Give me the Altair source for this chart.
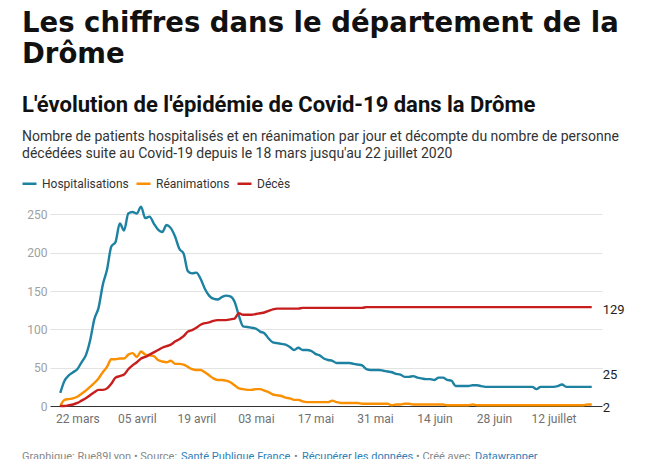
import altair as alt
import pandas as pd

# ---------------- data ----------------
start_date = "2020-03-18"
n_days = 126
dates = pd.date_range(start_date, periods=n_days, freq="D").strftime("%Y-%m-%d").tolist()

hospitalisations = [
    17, 33, 40, 44, 48, 57, 66, 85, 113, 128,
    158, 178, 208, 214, 238, 229, 251, 253, 251, 260,
    245, 247, 238, 230, 227, 236, 232, 221, 205, 199,
    176, 173, 174, 166, 153, 144, 140, 139, 142, 144,
    143, 136, 118, 104, 103, 102, 101, 97, 95, 88,
    83, 82, 81, 80, 77, 73, 76, 73, 73, 72,
    68, 66, 62, 60, 59, 56, 56, 56, 56, 55,
    54, 53, 48, 47, 47, 47, 46, 45, 44, 42,
    41, 38, 38, 39, 37, 36, 35, 35, 34, 37,
    37, 34, 33, 26, 26, 26, 26, 27, 27, 26,
    25, 25, 25, 25, 25, 25, 25, 25, 25, 25,
    25, 25, 22, 25, 25, 25, 25, 26, 28, 25,
    25, 25, 25, 25, 25, 25,
]
reanimations = [
    0, 8, 9, 10, 12, 16, 20, 25, 30, 36,
    44, 51, 61, 61, 62, 62, 67, 69, 64, 71,
    67, 66, 65, 60, 58, 57, 59, 55, 55, 54,
    51, 48, 47, 47, 44, 40, 36, 34, 34, 33,
    31, 27, 23, 22, 21, 21, 22, 22, 20, 18,
    15, 14, 13, 11, 10, 8, 8, 6, 5, 5,
    5, 5, 5, 5, 7, 5, 4, 4, 4, 4,
    4, 3, 3, 3, 3, 3, 3, 3, 1, 2,
    2, 3, 3, 2, 2, 2, 2, 2, 2, 2,
    2, 1, 1, 1, 1, 1, 1, 2, 1, 1,
    1, 1, 1, 1, 1, 1, 1, 1, 1, 1,
    1, 1, 1, 1, 1, 1, 1, 1, 1, 1,
    1, 1, 1, 1, 2, 2,
]
deces = [
    0, 0, 1, 2, 4, 7, 10, 14, 18, 21,
    21, 23, 29, 37, 39, 41, 48, 53, 57, 62,
    64, 67, 70, 73, 76, 78, 80, 84, 87, 91,
    97, 99, 102, 106, 108, 109, 111, 112, 112, 112,
    113, 114, 121, 119, 119, 119, 120, 121, 122, 124,
    126, 127, 127, 127, 127, 127, 127, 128, 128, 128,
    128, 128, 128, 128, 128, 128, 128, 128, 128, 128,
    128, 128, 129, 129, 129, 129, 129, 129, 129, 129,
    129, 129, 129, 129, 129, 129, 129, 129, 129, 129,
    129, 129, 129, 129, 129, 129, 129, 129, 129, 129,
    129, 129, 129, 129, 129, 129, 129, 129, 129, 129,
    129, 129, 129, 129, 129, 129, 129, 129, 129, 129,
    129, 129, 129, 129, 129, 129,
]

series_names = ["Hospitalisations", "Réanimations", "Décès"]
series_colors = ["#1d81a2", "#fa8f00", "#c71e1d"]
x_tick_dates = [(3, 22), (4, 5), (4, 19), (5, 3), (5, 17), (5, 31), (6, 14), (6, 28), (7, 12)]
y_ticks = [0, 50, 100, 150, 200, 250]

title_lines = ["Les chiffres dans le département de la", "Drôme"]
heading = "L'évolution de l'épidémie de Covid-19 dans la Drôme"
description = [
    "Nombre de patients hospitalisés et en réanimation par jour et décompte du nombre de personne",
    "décédées suite au Covid-19 depuis le 18 mars jusqu'au 22 juillet 2020",
]
footer_parts = [
    ("Graphique: Rue89Lyon • Source:", "#888888", -28),
    ("Santé Publique France", "#2f80b8", 131),
    ("•", "#888888", 244),
    ("Récupérer les données", "#2f80b8", 252),
    ("• Créé avec", "#888888", 366),
    ("Datawrapper", "#2f80b8", 425),
]

# ---------------- table ----------------
rows = []
for name, vals in zip(series_names, [hospitalisations, reanimations, deces]):
    for d, v in zip(dates, vals):
        rows.append({"date": d, "serie": name, "valeur": v})
df = pd.DataFrame(rows)

one = pd.DataFrame({"k": [0]})

x_scale = alt.Scale(
    type="utc",
    domain=[
        alt.DateTime(year=2020, month=3, date=15, hours=14, utc=True),
        alt.DateTime(year=2020, month=7, date=23, hours=10, utc=True),
    ],
)
y_scale = alt.Scale(domain=[0, 270], nice=False)

month_expr = "['janvier','février','mars','avril','mai','juin','juillet','août','septembre','octobre','novembre','décembre']"

x_axis = alt.Axis(
    title=None,
    values=[alt.DateTime(year=2020, month=m, date=d, utc=True) for m, d in x_tick_dates],
    labelExpr="utcFormat(datum.value, '%d') + ' ' + " + month_expr + "[utcmonth(datum.value)]",
    grid=False,
    ticks=False,
    domainColor="#333333",
    domainWidth=1,
    labelFont="Roboto",
    labelFontSize=12,
    labelColor="#707070",
    labelPadding=7,
)
y_axis = alt.Axis(
    title=None,
    values=y_ticks,
    grid=True,
    gridColor="#e3e3e3",
    gridWidth=1,
    domain=False,
    ticks=False,
    labelFont="Roboto",
    labelFontSize=12,
    labelColor="#a0a0a0",
    labelPadding=3,
)

color = alt.Color(
    "serie:N",
    scale=alt.Scale(domain=series_names, range=series_colors),
    legend=alt.Legend(
        orient="none",
        legendX=-29,
        legendY=-24,
        direction="horizontal",
        title=None,
        symbolType="stroke",
        symbolSize=196,
        symbolStrokeWidth=2.5,
        labelFont="Roboto",
        labelFontSize=12,
        labelColor="#333333",
        labelOffset=4,
        columnPadding=2,
    ),
)

lines = alt.Chart(df).mark_line(strokeWidth=2.4, interpolate="monotone").encode(
    x=alt.X("date:T", scale=x_scale, axis=x_axis),
    y=alt.Y("valeur:Q", scale=y_scale, axis=y_axis),
    color=color,
)

end_label_layers = []
for vals, dy in [(deces, 3), (hospitalisations, -12), (reanimations, 4)]:
    end_df = pd.DataFrame({"date": [dates[-1]], "valeur": [vals[-1]], "label": [str(vals[-1])]})
    end_label_layers.append(
        alt.Chart(end_df).mark_text(
            align="left", baseline="middle", dx=11, dy=dy,
            font="Roboto", fontSize=13, color="#222222",
        ).encode(
            x=alt.X("date:T", scale=x_scale),
            y=alt.Y("valeur:Q", scale=y_scale),
            text="label:N",
        )
    )


def text_layer(txt, x, y, font, size, weight, col):
    return alt.Chart(one).mark_text(
        align="left", baseline="alphabetic", font=font, fontSize=size,
        fontWeight=weight, color=col,
    ).encode(x=alt.value(x), y=alt.value(y), text=alt.value(txt))


texts = [
    text_layer(title_lines[0], -28, -167, "DejaVu Sans", 27.5, "bold", "#111111"),
    text_layer(title_lines[1], -28, -136, "DejaVu Sans", 27.5, "bold", "#111111"),
    text_layer(heading, -28, -87, "Roboto", 22, "bold", "#111111"),
    text_layer(description[0], -28, -58, "Roboto", 14, "normal", "#333333"),
    text_layer(description[1], -28, -41, "Roboto", 14, "normal", "#333333"),
]
for txt, col, x in footer_parts:
    texts.append(text_layer(txt, x, 261, "Roboto", 11, "normal", col))

chart = alt.layer(lines, *end_label_layers, *texts).properties(
    width=552,
    height=207,
    autosize=alt.AutoSizeParams(type="none"),
    padding={"left": 42, "top": 191, "right": 51, "bottom": 53},
).configure_view(stroke=None)

chart.save("out.html", embed_options={"renderer": "svg", "actions": False})
